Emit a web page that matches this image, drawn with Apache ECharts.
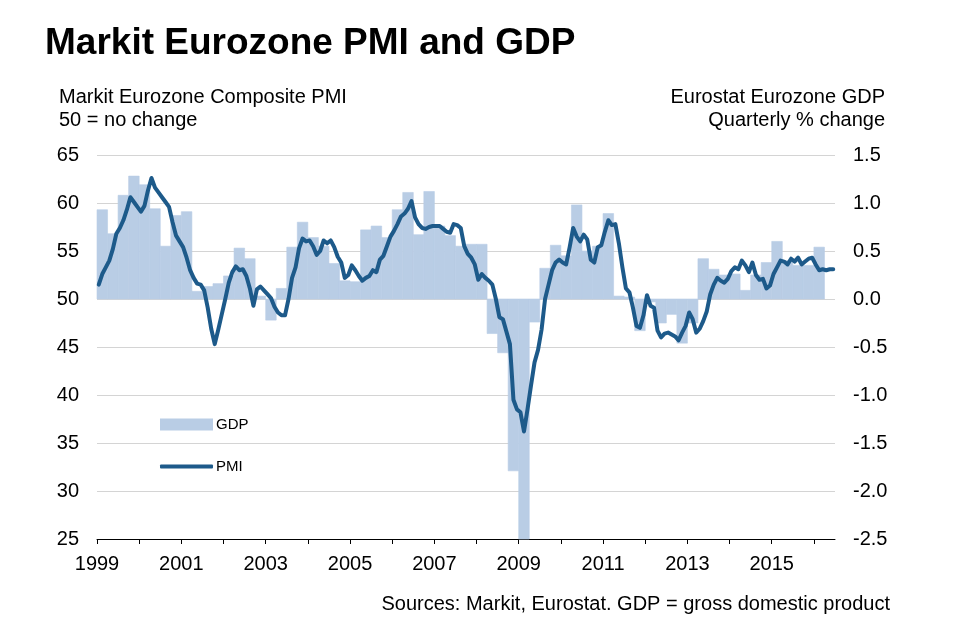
<!DOCTYPE html>
<html>
<head>
<meta charset="utf-8">
<script src="https://cdn.jsdelivr.net/npm/echarts@6/dist/echarts.min.js"></script>
<style>
html,body{margin:0;padding:0;background:#fff;}
#chart{width:959px;height:630px;}
</style>
</head>
<body>
<div id="chart"></div>
<script>
// ---- DATA ----
var startYear = 1999;
// Eurostat Eurozone GDP, quarterly % change, 1999Q1 .. 2016Q1
var gdpQuarterly = [
  0.93, 0.68, 1.08, 1.28,
  1.19, 0.94, 0.55, 0.87,
  0.91, 0.08, 0.13, 0.16,
  0.24, 0.53, 0.42, 0.03,
  -0.22, 0.11, 0.54, 0.80,
  0.64, 0.55, 0.37, 0.19,
  0.18, 0.72, 0.76, 0.64,
  0.93, 1.11, 0.67, 1.12,
  0.76, 0.66, 0.55, 0.57,
  0.57, -0.36, -0.56, -1.79,
  -2.90, -0.24, 0.32, 0.56,
  0.45, 0.98, 0.50, 0.55,
  0.89, 0.03, 0.02, -0.33,
  -0.03, -0.25, -0.16, -0.46,
  -0.25, 0.42, 0.31, 0.25,
  0.26, 0.09, 0.25, 0.38,
  0.60, 0.40, 0.35, 0.35,
  0.54
];
// Markit Eurozone Composite PMI, monthly, Jan 1999 .. Jun 2016
var pmiMonthly = [
  51.5, 52.6, 53.3, 54.0, 55.2, 56.8, 57.4, 58.2, 59.3, 60.6, 60.1, 59.6,
  59.1, 59.7, 61.3, 62.6, 61.6, 61.1, 60.6, 60.1, 59.6, 58.0, 56.6, 56.0,
  55.4, 54.3, 53.0, 52.2, 51.6, 51.5, 50.9, 49.1, 46.9, 45.3, 46.8, 48.4,
  50.0, 51.7, 52.8, 53.4, 53.0, 53.1, 52.4, 51.1, 49.3, 51.0, 51.3, 50.9,
  50.5, 50.1, 49.2, 48.6, 48.3, 48.3, 50.0, 52.2, 53.3, 55.3, 56.3, 56.0,
  56.1, 55.5, 54.6, 55.0, 56.1, 55.8, 56.1, 55.4, 54.4, 53.8, 52.2, 52.5,
  53.5, 53.0, 52.4, 51.9, 52.2, 52.4, 53.0, 52.8, 54.1, 54.5, 55.5, 56.5,
  57.1, 57.8, 58.6, 58.9, 59.4, 60.2, 58.5, 57.8, 57.4, 57.3, 57.5, 57.6,
  57.6, 57.6, 57.3, 57.0, 56.9, 57.8, 57.7, 57.4, 55.5, 54.7, 54.3, 53.6,
  52.0, 52.6, 52.2, 51.9, 51.5, 50.0, 48.1, 47.9, 46.6, 45.3, 39.5, 38.5,
  38.2, 36.2, 38.5, 41.0, 43.4, 44.7, 46.8, 50.0, 51.5, 53.0, 53.8, 54.1,
  53.8, 53.6, 55.4, 57.4, 56.5, 56.0, 56.7, 56.2, 54.1, 53.8, 55.4, 55.6,
  57.0, 58.2, 57.7, 57.8, 55.8, 53.3, 51.1, 50.7, 49.1, 47.2, 47.0, 48.3,
  50.4, 49.3, 49.1, 46.7, 46.0, 46.4, 46.5, 46.3, 46.1, 45.7, 46.5, 47.2,
  48.6, 47.9, 46.5, 46.9, 47.7, 48.7, 50.5, 51.5, 52.2, 51.9, 51.7, 52.1,
  52.9, 53.3, 53.1, 54.0, 53.5, 52.8, 53.8, 52.5, 52.0, 52.1, 51.1, 51.4,
  52.6, 53.3, 54.0, 53.9, 53.6, 54.2, 53.9, 54.3, 53.6, 53.9, 54.2, 54.3,
  53.6, 53.0, 53.1, 53.0, 53.1, 53.1
];
var xTickYears = [1999,2000,2001,2002,2003,2004,2005,2006,2007,2008,2009,2010,2011,2012,2013,2014,2015,2016];
var xLabelYears = [1999,2001,2003,2005,2007,2009,2011,2013,2015];

// ---- BUILD ----
var gdpData = gdpQuarterly.map(function (v, q) {
  var s = startYear + q / 4;
  return [s, s + 0.25, v];
});
var pmiData = pmiMonthly.map(function (v, m) {
  return [startYear + (m + 0.5) / 12, v];
});

var FONT = 'Liberation Sans, Arial, sans-serif';
var GDP_COLOR = '#b9cde5';
var PMI_COLOR = '#1d5a8a';

var chart = echarts.init(document.getElementById('chart'), null, {renderer: 'canvas'});
chart.setOption({
  backgroundColor: '#ffffff',
  animation: false,
  title: [
    {text: 'Markit Eurozone PMI and GDP', left: 45, top: 25, padding: 0,
     textStyle: {fontFamily: FONT, fontSize: 37, fontWeight: 'bold', color: '#000'}},
    {text: 'Markit Eurozone Composite PMI\n50 = no change', left: 59, top: 86, padding: 0,
     textStyle: {fontFamily: FONT, fontSize: 20, fontWeight: 'normal', color: '#000', lineHeight: 23}},
    {text: 'Eurostat Eurozone GDP\nQuarterly % change', left: 885, top: 86, padding: 0, textAlign: 'right',
     textStyle: {fontFamily: FONT, fontSize: 20, fontWeight: 'normal', color: '#000', lineHeight: 23, align: 'right'}},
    {text: 'Sources: Markit, Eurostat. GDP = gross domestic product', left: 890, top: 594, padding: 0, textAlign: 'right',
     textStyle: {fontFamily: FONT, fontSize: 20, fontWeight: 'normal', color: '#000'}}
  ],
  legend: [
    {data: [{name: 'GDP', icon: 'rect'}], left: 160, top: 417, orient: 'vertical', padding: 0,
     itemWidth: 53, itemHeight: 12, textStyle: {fontFamily: FONT, fontSize: 15, color: '#000', padding: [0,0,0,-2]}},
    {data: [{name: 'PMI', icon: 'roundRect'}], left: 160, top: 459, orient: 'vertical', padding: 0,
     itemWidth: 53, itemHeight: 4, textStyle: {fontFamily: FONT, fontSize: 15, color: '#000', padding: [0,0,0,-2]}}
  ],
  grid: {left: 97, right: 124, top: 155, bottom: 91, containLabel: false},
  xAxis: {
    type: 'value', min: 1999, max: 2016.5, interval: 1,
    axisLine: {show: true, onZero: false, lineStyle: {color: '#000', width: 1}},
    axisTick: {show: true, length: 5, lineStyle: {color: '#000'}, customValues: xTickYears},
    axisLabel: {fontFamily: FONT, fontSize: 20, color: '#000', margin: 15, customValues: xLabelYears,
      formatter: function (v) { return String(v); }},
    splitLine: {show: false}
  },
  yAxis: [
    {type: 'value', min: 25, max: 65, interval: 5, position: 'left',
     axisLine: {show: false}, axisTick: {show: false},
     axisLabel: {fontFamily: FONT, fontSize: 20, color: '#000', margin: 18},
     splitLine: {show: true, lineStyle: {color: '#d4d4d4', width: 1}}},
    {type: 'value', min: -2.5, max: 1.5, interval: 0.5, position: 'right',
     axisLine: {show: false}, axisTick: {show: false},
     axisLabel: {fontFamily: FONT, fontSize: 20, color: '#000', margin: 18, align: 'left',
       formatter: function (v) { return v.toFixed(1); }},
     splitLine: {show: false}}
  ],
  series: [
    {
      name: 'GDP', type: 'custom', xAxisIndex: 0, yAxisIndex: 1,
      itemStyle: {color: GDP_COLOR},
      encode: {x: [0, 1], y: 2},
      data: gdpData,
      z: 1,
      renderItem: function (params, api) {
        var p0 = api.coord([api.value(0), api.value(2)]);
        var p1 = api.coord([api.value(1), 0]);
        var rect = {
          x: p0[0],
          y: Math.min(p0[1], p1[1]),
          width: p1[0] - p0[0],
          height: Math.abs(p1[1] - p0[1])
        };
        var cs = params.coordSys;
        var shape = echarts.graphic.clipRectByRect(rect, {x: cs.x, y: cs.y, width: cs.width, height: cs.height});
        return shape && {
          type: 'rect', shape: shape,
          style: {fill: GDP_COLOR, stroke: GDP_COLOR, lineWidth: 0.6}
        };
      }
    },
    {
      name: 'PMI', type: 'line', xAxisIndex: 0, yAxisIndex: 0,
      data: pmiData, showSymbol: false, symbol: 'none', smooth: false,
      itemStyle: {color: PMI_COLOR},
      lineStyle: {color: PMI_COLOR, width: 4, join: 'round', cap: 'round'},
      z: 3
    }
  ]
});
</script>
</body>
</html>
